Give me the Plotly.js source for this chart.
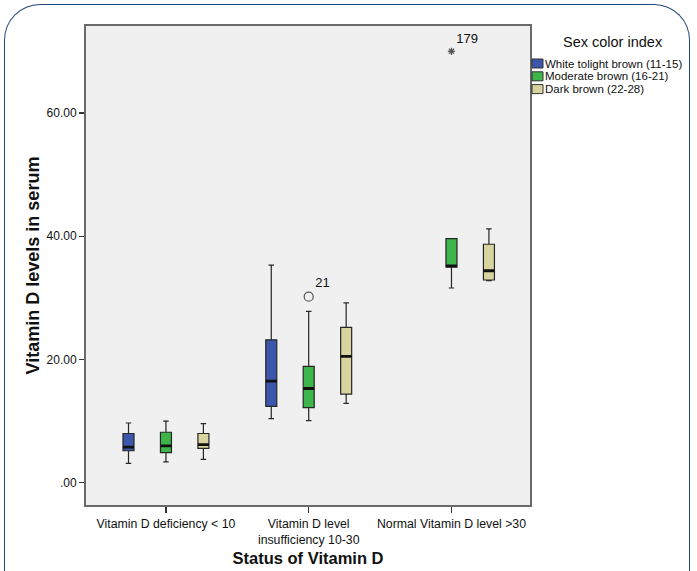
<!DOCTYPE html>
<html>
<head>
<meta charset="utf-8">
<script src="https://cdn.plot.ly/plotly-3.0.1.min.js"></script>
<style>
  html, body { margin: 0; padding: 0; background: #ffffff; }
  #frame {
    position: absolute; left: 4px; top: 4px; width: 686px; height: 600px;
    border: 1.5px solid #24467a; border-bottom: none;
    border-radius: 36px 36px 0 0; box-sizing: border-box; pointer-events: none; z-index: 5;
  }
  #chart { position: absolute; left: 0; top: 0; width: 697px; height: 571px; }
</style>
</head>
<body>
<div id="chart"></div>
<div id="frame"></div>
<script>
// ---- data ----
const categories = ['Vitamin D deficiency < 10', 'Vitamin D level<br>insufficiency 10-30', 'Normal Vitamin D level >30'];
const seriesNames = ['White tolight brown (11-15)', 'Moderate brown (16-21)', 'Dark brown (22-28)'];
const legendTitle = 'Sex color index';

const whiteCats   = [categories[0], categories[1]];
const whiteLower  = [3.15, 10.4];
const whiteQ1     = [5.2, 12.4];
const whiteMedian = [5.8, 16.5];
const whiteQ3     = [8.0, 23.2];
const whiteUpper  = [9.7, 35.3];

const moderateCats   = [categories[0], categories[1], categories[2]];
const moderateLower  = [3.4, 10.1, 31.6];
const moderateQ1     = [4.9, 12.2, 35.0];
const moderateMedian = [6.0, 15.3, 35.2];
const moderateQ3     = [8.2, 18.9, 39.6];
const moderateUpper  = [10.0, 27.8, 39.6];

const darkCats   = [categories[0], categories[1], categories[2]];
const darkLower  = [3.8, 12.9, 32.8];
const darkQ1     = [5.6, 14.4, 32.9];
const darkMedian = [6.2, 20.5, 34.4];
const darkQ3     = [8.0, 25.2, 38.7];
const darkUpper  = [9.6, 29.2, 41.2];

// outliers (Moderate brown group)
const outlierCats   = [categories[1], categories[2]];
const outlierValues = [30.2, 70.0];
const outlierLabels = ['21', '179'];

const yTickVals = [0, 20, 40, 60];
const yTickText = ['.00', '20.00', '40.00', '60.00'];

// ---- styles ----
const colors = ['#3b56ab', '#3db54b', '#d8d49f'];
const FONT = 'Arial, "Liberation Sans", sans-serif';

function boxTrace(name, group, cats, lo, q1, med, q3, hi, color) {
  return {
    type: 'box', name: name, x: cats, offsetgroup: group,
    lowerfence: lo, q1: q1, median: med, q3: q3, upperfence: hi,
    boxpoints: false, fillcolor: color,
    line: { color: '#262626', width: 1.2 },
    whiskerwidth: 0.5, hoverinfo: 'y', showlegend: false
  };
}
// thick median bar drawn on top of each box (same slot via offsetgroup)
function medianTrace(name, group, cats, med) {
  return {
    type: 'box', name: name + ' median', x: cats, offsetgroup: group,
    lowerfence: med, q1: med, median: med, q3: med, upperfence: med,
    boxpoints: false, fillcolor: '#111', line: { color: '#111', width: 2.8 },
    whiskerwidth: 0, hoverinfo: 'skip', showlegend: false
  };
}

const traces = [
  boxTrace(seriesNames[0], 'g0', whiteCats, whiteLower, whiteQ1, whiteMedian, whiteQ3, whiteUpper, colors[0]),
  boxTrace(seriesNames[1], 'g1', moderateCats, moderateLower, moderateQ1, moderateMedian, moderateQ3, moderateUpper, colors[1]),
  boxTrace(seriesNames[2], 'g2', darkCats, darkLower, darkQ1, darkMedian, darkQ3, darkUpper, colors[2]),
  medianTrace(seriesNames[0], 'g0', whiteCats, whiteMedian),
  medianTrace(seriesNames[1], 'g1', moderateCats, moderateMedian),
  medianTrace(seriesNames[2], 'g2', darkCats, darkMedian),
  {
    type: 'scatter', mode: 'markers+text', x: outlierCats, y: outlierValues,
    text: outlierLabels, textposition: 'top right',
    textfont: { family: FONT, size: 13, color: '#111' },
    marker: { symbol: ['circle-open', 'asterisk-open'], size: [9, 6], color: '#111', line: { color: '#111', width: 1.2 } },
    showlegend: false, hoverinfo: 'y'
  }
];

// ---- legend (drawn beside the plot, SPSS style) ----
const PW = 444, PH = 479, PL = 86, PB = 505;
const px = v => (v - PL) / PW;
const py = v => (PB - v) / PH;
const shapes = [];
const annotations = [{
  xref: 'paper', yref: 'paper', x: px(613), y: py(42), xanchor: 'center', yanchor: 'middle',
  text: legendTitle, showarrow: false, font: { family: FONT, size: 14.5, color: '#111' }
}];
seriesNames.forEach((n, i) => {
  const cy = 63.5 + i * 12.8;
  shapes.push({
    type: 'rect', xref: 'paper', yref: 'paper',
    x0: px(532), x1: px(543), y0: py(cy - 4.5), y1: py(cy + 4.5),
    fillcolor: colors[i], line: { color: '#333', width: 1 }
  });
  annotations.push({
    xref: 'paper', yref: 'paper', x: px(544), y: py(cy), xanchor: 'left', yanchor: 'middle',
    text: n, showarrow: false, borderpad: 0, font: { family: FONT, size: 11.5, color: '#111' }
  });
});

const layout = {
  width: 697, height: 571,
  margin: { l: 86, r: 167, t: 26, b: 66 },
  paper_bgcolor: '#ffffff',
  plot_bgcolor: '#f0f0f0',
  font: { family: FONT, size: 12, color: '#111' },
  boxmode: 'group', boxgap: 0.213, boxgroupgap: 0.706,
  xaxis: {
    type: 'category', categoryorder: 'array', categoryarray: categories,
    range: [-0.56, 2.55],
    showline: true, mirror: true, linecolor: '#6a6a6a', linewidth: 2,
    ticks: 'outside', ticklen: 6, tickcolor: '#333', tickwidth: 1.3,
    showgrid: false, zeroline: false,
    tickfont: { family: FONT, size: 12.3, color: '#111' },
    title: { text: '<b>Status of Vitamin D</b>', font: { family: FONT, size: 16.5, color: '#111' }, standoff: 7 }
  },
  yaxis: {
    range: [-3.6, 74.1],
    tickvals: yTickVals, ticktext: yTickText,
    showline: true, mirror: true, linecolor: '#6a6a6a', linewidth: 2,
    ticks: 'outside', ticklen: 5, tickcolor: '#333', tickwidth: 1.3,
    showgrid: false, zeroline: false,
    tickfont: { family: FONT, size: 12, color: '#111' },
    title: { text: '<b>Vitamin D levels in serum</b>', font: { family: FONT, size: 18, color: '#111' }, standoff: 2 }
  },
  showlegend: false,
  shapes: shapes,
  annotations: annotations
};

Plotly.newPlot('chart', traces, layout, { displayModeBar: false, staticPlot: true });
</script>
</body>
</html>
